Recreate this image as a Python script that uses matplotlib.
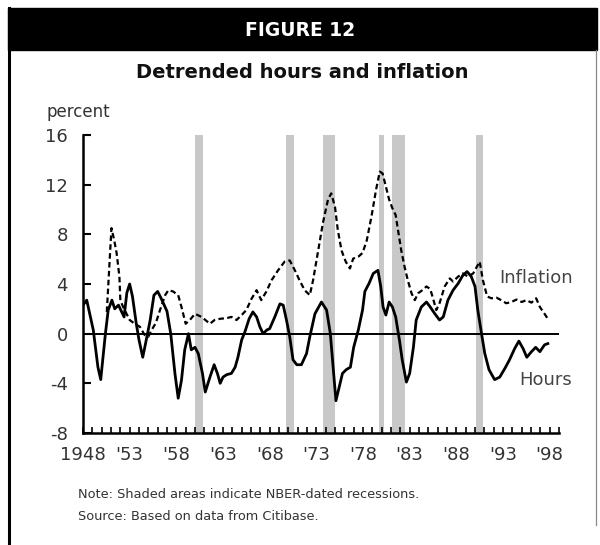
import matplotlib
matplotlib.use("Agg")
import matplotlib.pyplot as plt
from matplotlib.patches import Rectangle
from matplotlib.lines import Line2D
from matplotlib.ticker import FixedLocator, MultipleLocator

plt.rcParams["axes.unicode_minus"] = False

# ─── Data ────────────────────────────────────────────────────────────────────
hours_year = [1948.0, 1948.4, 1949.1, 1949.6, 1949.9, 1950.4, 1950.7, 1951.1,
              1951.4, 1951.8, 1952.4, 1952.7, 1953.0, 1953.3, 1953.7, 1954.0,
              1954.4, 1954.7, 1955.2, 1955.6, 1956.0, 1956.4, 1957.0, 1957.4,
              1957.85, 1958.2, 1958.55, 1958.9, 1959.3, 1959.6, 1960.0, 1960.35,
              1960.8, 1961.1, 1961.6, 1962.05, 1962.4, 1962.7, 1963.0, 1963.4,
              1963.9, 1964.3, 1964.6, 1965.0, 1965.35, 1965.8, 1966.2, 1966.6,
              1966.95, 1967.3, 1967.7, 1968.0, 1968.55, 1969.1, 1969.45, 1969.8,
              1970.15, 1970.5, 1970.9, 1971.4, 1971.95, 1972.3, 1972.85, 1973.55,
              1974.1, 1974.5, 1974.8, 1975.1, 1975.45, 1975.8, 1976.2, 1976.65,
              1977.0, 1977.5, 1977.95, 1978.2, 1978.65, 1979.1, 1979.6, 1979.9,
              1980.15, 1980.45, 1980.8, 1981.15, 1981.5, 1981.9, 1982.2, 1982.65,
              1983.0, 1983.4, 1983.7, 1984.25, 1984.8, 1985.2, 1985.7, 1986.2,
              1986.6, 1987.1, 1987.65, 1988.2, 1988.7, 1989.15, 1989.6, 1990.0,
              1990.3, 1990.7, 1991.05, 1991.5, 1992.1, 1992.65, 1993.2, 1993.7,
              1994.25, 1994.7, 1995.15, 1995.55, 1996.05, 1996.5, 1996.95,
              1997.45, 1997.8]
hours = [2.3, 2.7, 0.3, -2.7, -3.7, 0.0, 1.9, 2.7,
         2.0, 2.3, 1.35, 3.3, 4.0, 3.0, 0.85, -0.5,
         -1.9, -0.8, 1.1, 3.1, 3.4, 2.8, 1.8, 0.0,
         -3.2, -5.2, -3.75, -1.3, 0.0, -1.3, -1.1, -1.6,
         -3.2, -4.7, -3.5, -2.5, -3.2, -4.0, -3.5, -3.3,
         -3.2, -2.7, -1.9, -0.5, 0.15, 1.2, 1.75, 1.35,
         0.55, 0.0, 0.3, 0.4, 1.35, 2.4, 2.3, 1.1,
         -0.25, -2.1, -2.5, -2.5, -1.6, -0.25, 1.6, 2.55,
         1.9, 0.0, -2.7, -5.4, -4.3, -3.2, -2.9, -2.7,
         -1.1, 0.3, 1.9, 3.4, 4.05, 4.85, 5.1, 3.8,
         2.15, 1.5, 2.55, 2.15, 1.35, -0.5, -2.1, -3.9,
         -3.2, -1.1, 1.1, 2.15, 2.55, 2.15, 1.6, 1.1,
         1.35, 2.7, 3.5, 4.05, 4.7, 5.0, 4.6, 3.8,
         1.9, 0.0, -1.6, -2.9, -3.7, -3.5, -2.8, -2.1,
         -1.2, -0.6, -1.2, -1.9, -1.45, -1.1, -1.45,
         -0.9, -0.8]

infl_year = [1950.55, 1950.9, 1951.05, 1951.35, 1951.6, 1951.9, 1952.0, 1952.3,
             1953.0, 1953.55, 1954.1, 1954.6, 1955.0, 1955.35, 1955.8, 1956.25,
             1956.8, 1957.15, 1957.65, 1958.2, 1958.55, 1959.0, 1959.45, 1960.0,
             1960.7, 1961.6, 1962.1, 1962.7, 1963.4, 1963.9, 1964.45, 1965.0,
             1965.5, 1966.05, 1966.6, 1967.1, 1967.65, 1968.2, 1968.9, 1969.6,
             1970.15, 1970.7, 1971.2, 1971.75, 1972.3, 1972.65, 1973.2, 1973.7,
             1974.25, 1974.6, 1975.0, 1975.3, 1975.7, 1976.15, 1976.6, 1976.95,
             1977.5, 1977.95, 1978.4, 1978.9, 1979.4, 1979.8, 1980.1, 1980.45,
             1980.8, 1981.15, 1981.5, 1981.75, 1982.1, 1982.45, 1982.8, 1983.2,
             1983.55, 1983.9, 1984.35, 1984.8, 1985.2, 1985.5, 1985.85, 1986.2,
             1986.75, 1987.3, 1987.65, 1988.2, 1988.7, 1989.25, 1989.8, 1990.5,
             1990.85, 1991.3, 1991.75, 1992.3, 1992.8, 1993.35, 1993.9, 1994.45,
             1995.0, 1995.5, 1996.05, 1996.55, 1996.95, 1997.45, 1997.8]
inflation = [1.75, 6.5, 8.5, 7.5, 6.5, 4.6, 2.7, 2.15,
             1.1, 0.8, 0.55, -0.1, -0.25, 0.3, 0.85, 1.9,
             3.1, 3.5, 3.4, 3.1, 2.15, 0.8, 1.1, 1.6,
             1.35, 0.8, 1.1, 1.2, 1.25, 1.35, 1.1, 1.5,
             1.9, 2.8, 3.5, 2.7, 3.4, 4.3, 5.1, 5.8,
             5.9, 5.1, 4.3, 3.5, 3.1, 4.3, 6.7, 8.9,
             10.8, 11.3, 10.2, 8.35, 6.7, 5.8, 5.25, 6.05,
             6.2, 6.5, 7.5, 9.4, 11.6, 13.05, 12.9, 11.85,
             10.8, 10.1, 9.55, 8.35, 6.7, 5.4, 4.3, 3.25,
             2.7, 3.25, 3.5, 3.8, 3.6, 2.85, 1.9, 2.45,
             3.8, 4.45, 4.2, 4.6, 4.85, 4.6, 4.85, 5.8,
             4.3, 3.0, 2.85, 2.9, 2.7, 2.45, 2.55, 2.75,
             2.55, 2.7, 2.5, 2.85, 2.15, 1.6, 1.2]

# NBER recessions as drawn (start, end)
rec_start = [1960.0, 1969.7, 1973.7, 1979.7, 1981.15, 1990.15]
rec_end = [1960.85, 1970.6, 1975.0, 1980.2, 1982.5, 1990.85]

label_years = [1948, 1953, 1958, 1963, 1968, 1973, 1978, 1983, 1988, 1993, 1998]
label_text = ["1948", "'53", "'58", "'63", "'68", "'73", "'78", "'83", "'88",
              "'93", "'98"]
y_ticks = [-8, -4, 0, 4, 8, 12, 16]

W, H = 600, 545
fig = plt.figure(figsize=(6.0, 5.45), dpi=100)
fig.patch.set_facecolor("white")

# ─── Frame and header ─────────────────────────────────────────────────────
fig.patches.append(Rectangle((8 / W, 1 - 50 / H), 589 / W, 42 / H,
                             transform=fig.transFigure, color="black", zorder=0))
fig.lines.append(Line2D([9 / W, 9 / W], [0, 1 - 8 / H], transform=fig.transFigure,
                        color="black", lw=2.2))
fig.lines.append(Line2D([596 / W, 596 / W], [1 - 525 / H, 1 - 50 / H],
                        transform=fig.transFigure, color="#888888", lw=0.9))
fig.text(300 / W, 1 - 30 / H, "FIGURE 12", color="white", fontsize=13.5,
         fontweight="heavy", ha="center", va="center")
fig.text(302 / W, 1 - 72 / H, "Detrended hours and inflation", color="#111111",
         fontsize=14, fontweight="bold", ha="center", va="center")
fig.text(47 / W, 1 - 112 / H, "percent", color="#333333", fontsize=12,
         ha="left", va="center")
fig.text(78 / W, 1 - 494 / H, "Note: Shaded areas indicate NBER-dated recessions.",
         color="#333333", fontsize=9.3, ha="left", va="center")
fig.text(78 / W, 1 - 517 / H, "Source: Based on data from Citibase.",
         color="#333333", fontsize=9.3, ha="left", va="center")

# ─── Plot area ────────────────────────────────────────────────────────────
ax = fig.add_axes([83 / W, 1 - 433 / H, (559 - 83) / W, (433 - 135) / H])
ax.set_xlim(1948, 1999)
ax.set_ylim(-8, 16)

for s, e in zip(rec_start, rec_end):
    ax.axvspan(s, e, color="#c8c8c8", lw=0, zorder=1)

ax.axhline(0, color="black", lw=1.4, zorder=2)
ax.plot(infl_year, inflation, color="black", lw=1.6, ls=(0, (2.5, 1.5)), zorder=3)
ax.plot(hours_year, hours, color="black", lw=2.0, zorder=4)

ax.text(1992.6, 4.5, "Inflation", color="#444444", fontsize=13, ha="left",
        va="center")
ax.text(1994.7, -3.75, "Hours", color="#444444", fontsize=13, ha="left",
        va="center")

ax.spines["top"].set_visible(False)
ax.spines["right"].set_visible(False)
ax.spines["left"].set_linewidth(1.8)
ax.spines["bottom"].set_linewidth(1.8)

ax.xaxis.set_major_locator(FixedLocator(label_years))
ax.set_xticklabels(label_text)
ax.xaxis.set_minor_locator(MultipleLocator(1))
ax.set_yticks(y_ticks)
ax.tick_params(axis="x", which="both", direction="in", length=4, width=1.2,
               pad=9, labelsize=13, labelcolor="#333333")
ax.tick_params(axis="y", direction="in", length=6, width=1.5, pad=11,
               labelsize=13, labelcolor="#333333")

fig.savefig("out.png", dpi=100, facecolor="white")
